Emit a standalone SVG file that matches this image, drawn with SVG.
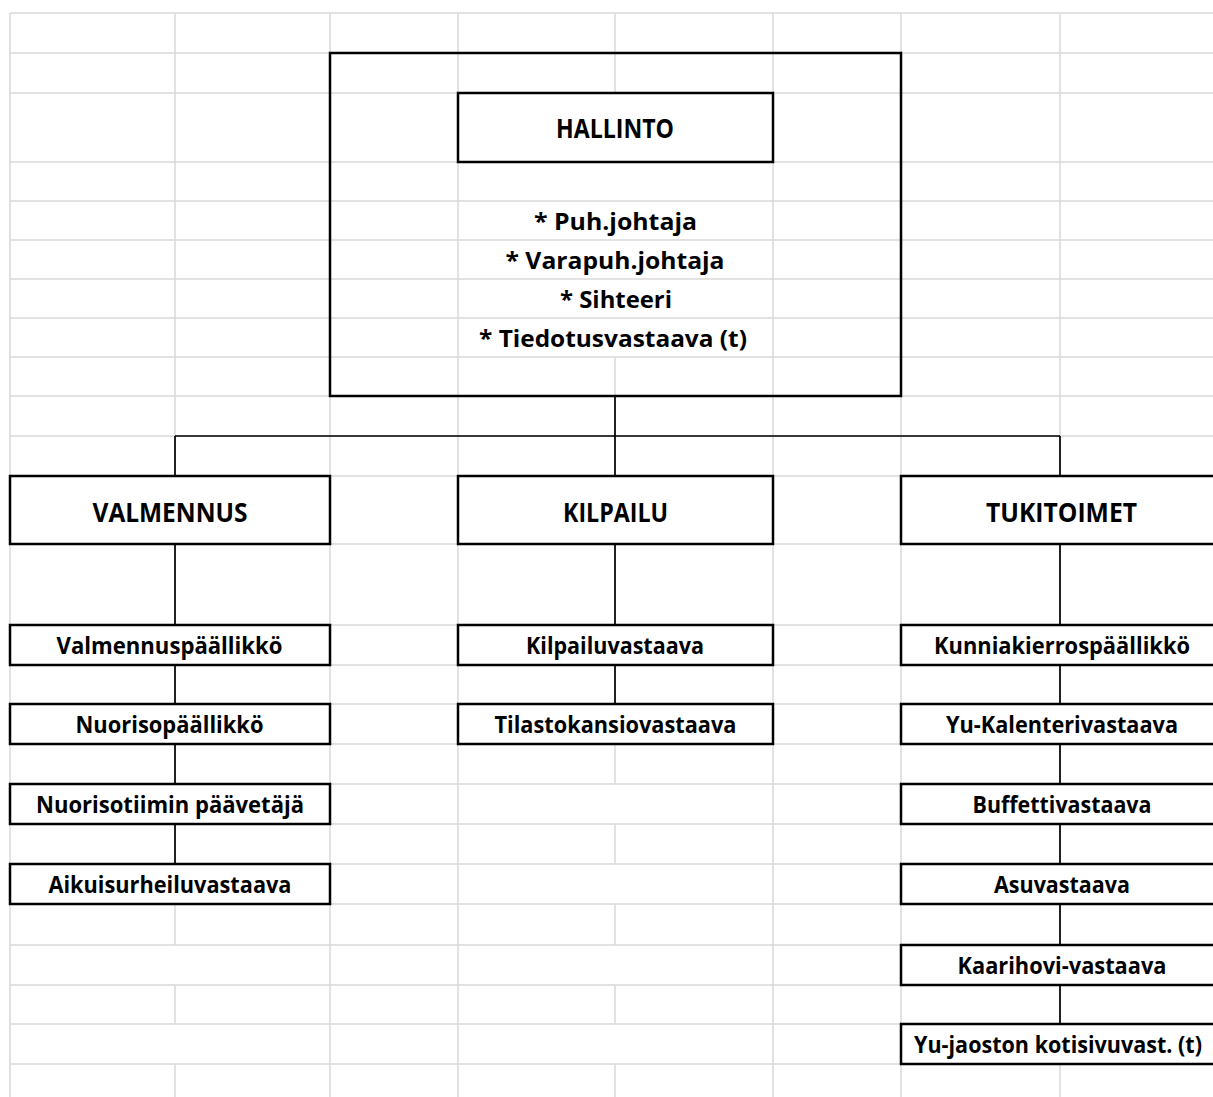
<svg xmlns="http://www.w3.org/2000/svg" width="1213" height="1097" viewBox="0 0 1213 1097">
<style>
.g{stroke:#d9d9d9;stroke-width:1.5;fill:none}
.b{fill:#ffffff;stroke:#000000;stroke-width:2.5}
.f{fill:none;stroke:#000000;stroke-width:2.5}
.c{stroke:#000000;stroke-width:1.7;fill:none}
text{font-family:"Open Sans",Lato,"Liberation Sans",sans-serif;font-weight:bold;font-size:23px;fill:#000000;text-anchor:middle}
text.h{font-size:26.5px}
text.m{font-size:23.5px}
</style>
<rect x="0" y="0" width="1213" height="1097" fill="#ffffff"/>
<g id="grid">
<path class="g" d="M10 13H1213M10 53H1213M10 93H1213M10 162H1213M10 201H1213M10 240H1213M10 279H1213M10 318H1213M10 357H1213M10 396H1213M10 436H1213M10 476H1213M10 544H1213M10 625H1213M10 665H1213M10 704H1213M10 744H1213M10 784H1213M10 824H1213M10 864H1213M10 904H1213M10 945H1213M10 985H1213M10 1024H1213M10 1064H1213"/>
<path class="g" d="M10 13V1097M175 13V945M175 985V1024M175 1064V1097M330 13V1097M458 13V1097M615 13V162M615 357V784M615 824V864M615 904V945M615 985V1024M615 1064V1097M773 13V1097M901 13V1097M1060 13V1097"/>
</g>
<g id="hallinto-frame">
<rect class="f" x="330" y="53" width="571" height="343"/>
<text class="m" x="615.5" y="230" textLength="163" lengthAdjust="spacingAndGlyphs">* Puh.johtaja</text>
<text class="m" x="615" y="269" textLength="219" lengthAdjust="spacingAndGlyphs">* Varapuh.johtaja</text>
<text class="m" x="616" y="308" textLength="112" lengthAdjust="spacingAndGlyphs">* Sihteeri</text>
<text class="m" x="613" y="347" textLength="268" lengthAdjust="spacingAndGlyphs">* Tiedotusvastaava (t)</text>
</g>
<g id="connectors">
<path class="c" d="M615 396V476M175 436H1060M175 436V476M1060 436V476"/>
<path class="c" d="M175 544V625M175 665V704M175 744V784M175 824V864"/>
<path class="c" d="M615 544V625M615 665V704"/>
<path class="c" d="M1060 544V625M1060 665V704M1060 744V784M1060 824V864M1060 904V945M1060 985V1024"/>
</g>
<g id="hallinto"><rect class="b" x="458" y="93" width="315" height="69"/><text class="h" x="615" y="138" textLength="118" lengthAdjust="spacingAndGlyphs">HALLINTO</text></g>
<g id="valmennus"><rect class="b" x="10" y="476" width="320" height="68"/><text class="h" x="170" y="521.5" textLength="155" lengthAdjust="spacingAndGlyphs">VALMENNUS</text></g>
<g id="kilpailu"><rect class="b" x="458" y="476" width="315" height="68"/><text class="h" x="615.5" y="521.5" textLength="105" lengthAdjust="spacingAndGlyphs">KILPAILU</text></g>
<g id="tukitoimet"><rect class="b" x="901" y="476" width="330" height="68"/><text class="h" x="1061.5" y="521.5" textLength="151" lengthAdjust="spacingAndGlyphs">TUKITOIMET</text></g>
<g id="valmennuspaallikko"><rect class="b" x="10" y="625" width="320" height="40"/><text x="169.5" y="653.5" textLength="226" lengthAdjust="spacingAndGlyphs">Valmennuspäällikkö</text></g>
<g id="nuorisopaallikko"><rect class="b" x="10" y="704" width="320" height="40"/><text x="169.5" y="732.5" textLength="188" lengthAdjust="spacingAndGlyphs">Nuorisopäällikkö</text></g>
<g id="nuorisotiimin-paavetaja"><rect class="b" x="10" y="784" width="320" height="40"/><text x="170" y="812.5" textLength="268" lengthAdjust="spacingAndGlyphs">Nuorisotiimin päävetäjä</text></g>
<g id="aikuisurheiluvastaava"><rect class="b" x="10" y="864" width="320" height="40"/><text x="170" y="892.5" textLength="243" lengthAdjust="spacingAndGlyphs">Aikuisurheiluvastaava</text></g>
<g id="kilpailuvastaava"><rect class="b" x="458" y="625" width="315" height="40"/><text x="615" y="653.5" textLength="178" lengthAdjust="spacingAndGlyphs">Kilpailuvastaava</text></g>
<g id="tilastokansiovastaava"><rect class="b" x="458" y="704" width="315" height="40"/><text x="615.5" y="732.5" textLength="242" lengthAdjust="spacingAndGlyphs">Tilastokansiovastaava</text></g>
<g id="kunniakierrospaallikko"><rect class="b" x="901" y="625" width="330" height="40"/><text x="1062" y="653.5" textLength="256" lengthAdjust="spacingAndGlyphs">Kunniakierrospäällikkö</text></g>
<g id="yu-kalenterivastaava"><rect class="b" x="901" y="704" width="330" height="40"/><text x="1062" y="732.5" textLength="232" lengthAdjust="spacingAndGlyphs">Yu-Kalenterivastaava</text></g>
<g id="buffettivastaava"><rect class="b" x="901" y="784" width="330" height="40"/><text x="1062" y="812.5" textLength="179" lengthAdjust="spacingAndGlyphs">Buffettivastaava</text></g>
<g id="asuvastaava"><rect class="b" x="901" y="864" width="330" height="40"/><text x="1062" y="892.5" textLength="136" lengthAdjust="spacingAndGlyphs">Asuvastaava</text></g>
<g id="kaarihovi-vastaava"><rect class="b" x="901" y="945" width="330" height="40"/><text x="1062" y="973.5" textLength="209" lengthAdjust="spacingAndGlyphs">Kaarihovi-vastaava</text></g>
<g id="yu-jaoston-kotisivuvastaava"><rect class="b" x="901" y="1024" width="330" height="40"/><text x="1058" y="1052.5" textLength="288" lengthAdjust="spacingAndGlyphs">Yu-jaoston kotisivuvast. (t)</text></g>
</svg>
